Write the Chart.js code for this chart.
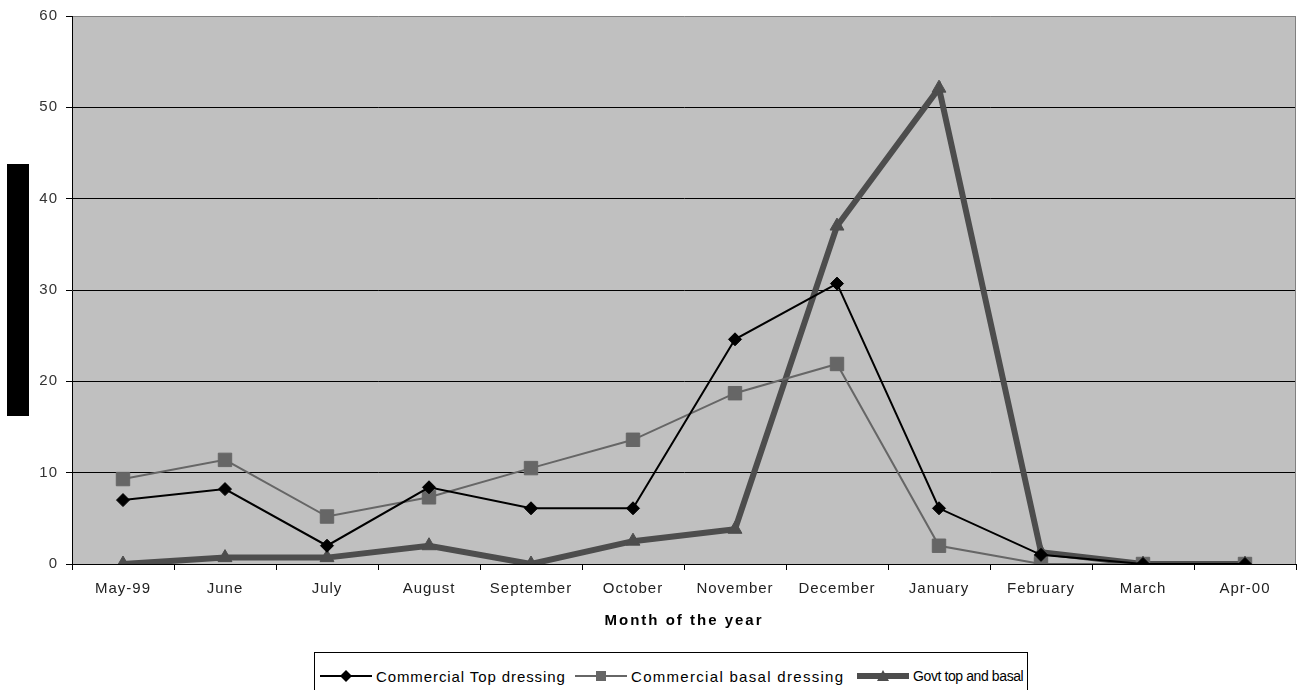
<!DOCTYPE html>
<html>
<head>
<meta charset="utf-8">
<script src="https://cdn.jsdelivr.net/npm/chart.js@4/dist/chart.umd.min.js"></script>
<style>
  html, body { margin: 0; padding: 0; background: #fff; overflow: hidden; }
  #wrap { position: relative; width: 1299px; height: 690px; overflow: hidden; }
  #chart { position: absolute; left: 0; top: 0; }
  #legend {
    position: absolute; left: 314px; top: 652px; width: 714px; height: 44px;
    border: 1px solid #000; background: #fff; box-sizing: border-box;
    display: flex; align-items: flex-start; padding: 13px 0 0 5px;
    font-family: "Liberation Sans", Arial, sans-serif; font-size: 15px;
    color: #000; white-space: nowrap;
  }
  #legend .item { display: flex; align-items: center; height: 20px; flex: none; overflow: visible; }
  #legend .i0 { width: 255px; letter-spacing: 0.9px; }
  #legend .i1 { width: 282px; letter-spacing: 1.3px; }
  #legend .i2 { letter-spacing: -0.4px; font-size: 14px; }
  #legend svg { display: block; margin-right: 4px; flex: none; }
</style>
</head>
<body>
<div id="wrap">
  <canvas id="chart" width="1299" height="690"></canvas>
  <div id="legend"></div>
</div>
<script>
// Months covered, May 1999 to April 2000
const months = ["May-99", "June", "July", "August", "September", "October",
                "November", "December", "January", "February", "March", "Apr-00"];

// Series values per month
const commercialTop   = [7.0, 8.2, 2.0, 8.4, 6.1, 6.1, 24.6, 30.7, 6.1, 1.0, 0, 0];
const commercialBasal = [9.3, 11.4, 5.2, 7.3, 10.5, 13.6, 18.7, 21.9, 2.0, 0, 0, 0];
const govtTopBasal    = [0, 0.7, 0.7, 2.0, 0, 2.5, 3.8, 37.0, 52.1, 1.3, 0, 0];

// Series names
const seriesNames = ["Commercial Top dressing", "Commercial basal dressing", "Govt top and basal"];

// Value axis ticks
const yTicks = [0, 10, 20, 30, 40, 50, 60];

const FONT = "'Liberation Sans', Arial, sans-serif";

// Plot background, plot frame, and the filled axis-title bar on the left
const framePlugin = {
  id: 'frame',
  beforeDraw(chart) {
    const ctx = chart.ctx;
    ctx.letterSpacing = '1px';
    const a = chart.chartArea;
    ctx.save();
    ctx.fillStyle = '#c0c0c0';
    ctx.fillRect(a.left, a.top, a.right - a.left, a.bottom - a.top);
    ctx.restore();
  },
  beforeLayout(chart) {
    chart.ctx.letterSpacing = '1px';
  },
  afterLayout(chart) {
    const s = chart.scales.x;
    if (s && !s.__spaced) {
      const orig = s.drawTitle.bind(s);
      s.drawTitle = function () {
        const c = this.ctx;
        const prev = c.letterSpacing;
        c.letterSpacing = '2px';
        orig();
        c.letterSpacing = prev;
      };
      s.__spaced = true;
    }
  },
  afterDraw(chart) {
    const ctx = chart.ctx;
    const a = chart.chartArea;
    ctx.save();
    ctx.strokeStyle = '#808080';
    ctx.lineWidth = 1;
    ctx.beginPath();
    ctx.moveTo(a.right - 0.5, a.top);
    ctx.lineTo(a.right - 0.5, a.bottom);
    ctx.stroke();
    const mid = (a.top + a.bottom) / 2;
    ctx.fillStyle = '#000';
    ctx.fillRect(7, Math.round(mid - 126), 22, 252);
    ctx.restore();
  }
};

const styles = [
  { color: '#000000', width: 2, point: 'rectRot', radius: 6.5 },
  { color: '#666666', width: 2, point: 'rect', radius: 9.5 },
  { color: '#4d4d4d', width: 6, point: 'triangle', radius: 8 }
];
const values = [commercialTop, commercialBasal, govtTopBasal];

const datasets = values.map((v, i) => ({
  label: seriesNames[i],
  data: v,
  borderColor: styles[i].color,
  backgroundColor: styles[i].color,
  borderWidth: styles[i].width,
  pointStyle: styles[i].point,
  pointRadius: styles[i].radius,
  pointBackgroundColor: styles[i].color,
  pointBorderColor: styles[i].color,
  pointBorderWidth: 1,
  tension: 0,
  fill: false
}));

new Chart(document.getElementById('chart'), {
  type: 'line',
  data: { labels: months, datasets },
  options: {
    responsive: false,
    animation: false,
    layout: { autoPadding: false, padding: { top: 16, right: 3, left: 0, bottom: 0 } },
    plugins: { legend: { display: false }, tooltip: { enabled: false } },
    scales: {
      x: {
        offset: true,
        afterFit(scale) { scale.height = 126; scale.paddingLeft = 0; scale.paddingRight = 0; },
        grid: { display: true, drawOnChartArea: false, offset: true, tickLength: 6, color: '#000', tickColor: '#000' },
        border: { color: '#000', width: 1 },
        ticks: { padding: 10, color: '#222', font: { family: FONT, size: 15 }, maxRotation: 0, autoSkip: false },
        title: {
          display: true, text: 'Month of the year', color: '#000',
          font: { family: FONT, size: 15, weight: 'bold' },
          padding: { top: 0, bottom: 60 }
        }
      },
      y: {
        min: yTicks[0],
        max: yTicks[yTicks.length - 1],
        afterFit(scale) { scale.width = 72; scale.paddingTop = 0; scale.paddingBottom = 0; },
        afterBuildTicks(scale) { scale.ticks = yTicks.map(v => ({ value: v })); },
        grid: {
          color: (c) => (c.tick && c.tick.value === 60 ? '#808080' : '#000'),
          tickColor: '#000', tickLength: 6, lineWidth: 1
        },
        border: { color: '#000', width: 1 },
        ticks: { padding: 8, color: '#333', font: { family: FONT, size: 15 } }
      }
    }
  },
  plugins: [framePlugin]
});

// Legend row: line sample with marker, then series name
function glyph(st) {
  const w = 52, h = 20, cx = 26, cy = 10;
  let mark = '';
  if (st.point === 'rectRot') {
    mark = `<polygon points="${cx},${cy-6} ${cx+6},${cy} ${cx},${cy+6} ${cx-6},${cy}" fill="${st.color}"/>`;
  } else if (st.point === 'rect') {
    mark = `<rect x="${cx-5}" y="${cy-5}" width="10" height="10" fill="${st.color}"/>`;
  } else {
    mark = `<polygon points="${cx},${cy-6} ${cx+6},${cy+5} ${cx-6},${cy+5}" fill="${st.color}"/>`;
  }
  return `<svg width="${w}" height="${h}"><line x1="0" y1="${cy}" x2="${w}" y2="${cy}" stroke="${st.color}" stroke-width="${st.width}" stroke-linecap="round"/>${mark}</svg>`;
}
document.getElementById('legend').innerHTML = seriesNames.map((n, i) =>
  `<div class="item i${i}">${glyph(styles[i])}<span>${n}</span></div>`).join('');
</script>
</body>
</html>
